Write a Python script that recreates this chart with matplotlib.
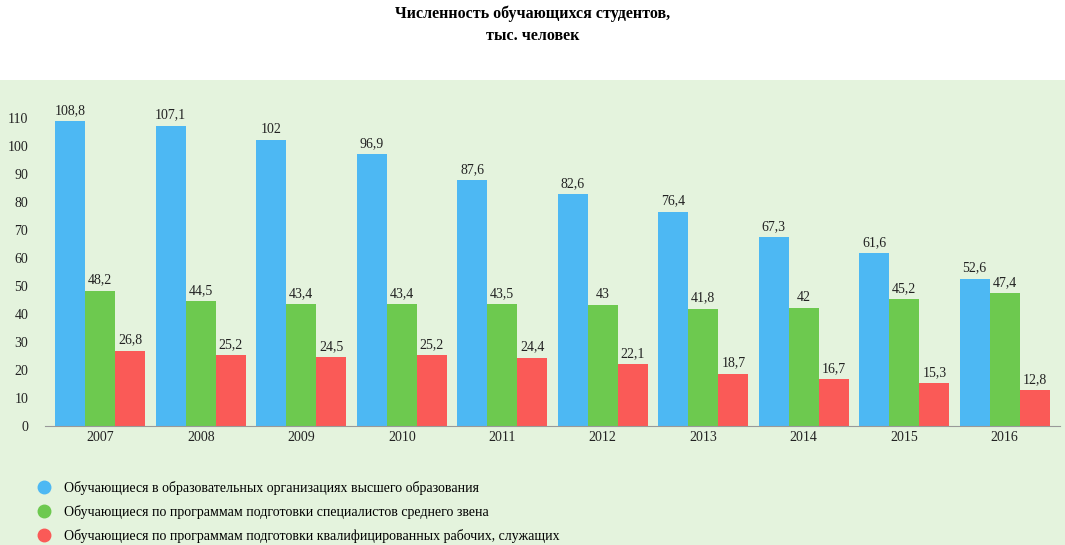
import numpy as np
import matplotlib.pyplot as plt
from matplotlib.patches import Rectangle
from matplotlib.lines import Line2D

years = ["2007", "2008", "2009", "2010", "2011", "2012", "2013", "2014", "2015", "2016"]
higher = [108.8, 107.1, 102, 96.9, 87.6, 82.6, 76.4, 67.3, 61.6, 52.6]
middle = [48.2, 44.5, 43.4, 43.4, 43.5, 43, 41.8, 42, 45.2, 47.4]
workers = [26.8, 25.2, 24.5, 25.2, 24.4, 22.1, 18.7, 16.7, 15.3, 12.8]
series_names = [
    "Обучающиеся в образовательных организациях высшего образования",
    "Обучающиеся по программам подготовки специалистов среднего звена",
    "Обучающиеся по программам подготовки квалифицированных рабочих, служащих",
]
colors = ["#4db8f3", "#6dc94f", "#fa5a57"]

plt.rcParams["font.family"] = "Liberation Serif"
W, H = 1065, 545
fig = plt.figure(figsize=(W / 100, H / 100), dpi=100)
fig.patches.append(Rectangle((0, 0), 1, (H - 80) / H, transform=fig.transFigure,
                             facecolor="#e4f3dd", edgecolor="none", zorder=-10))
fig.text(0.5, 1 - 14 / H, "Численность обучающихся студентов,", ha="center", va="center",
         fontsize=11.5, fontweight="bold")
fig.text(0.5, 1 - 36 / H, "тыс. человек", ha="center", va="center",
         fontsize=11.5, fontweight="bold")

ax = fig.add_axes([45 / W, (H - 426) / H, 1015 / W, 314 / H])
ax.set_facecolor("none")
x = np.arange(len(years))
bw = 0.3
for off, vals, c in zip([-bw, 0, bw], [higher, middle, workers], colors):
    bars = ax.bar(x + off, vals, bw, color=c)
    for b, v in zip(bars, vals):
        ax.text(b.get_x() + bw / 2, v + 1.5, f"{v:g}".replace(".", ","),
                ha="center", va="bottom", fontsize=10, color="#222222")

ax.set_xlim(-0.55, 9.55)
ax.set_ylim(0, 112)
ax.set_yticks(range(0, 111, 10))
ax.set_xticks(x)
ax.set_xticklabels(years)
ax.tick_params(axis="both", length=0, labelsize=10, colors="#222222")
ax.tick_params(axis="y", pad=12)
for s in ["top", "right", "left"]:
    ax.spines[s].set_visible(False)
ax.spines["bottom"].set_color("#999999")

handles = [Line2D([], [], marker="o", linestyle="", markersize=9, color=c) for c in colors]
fig.legend(handles, series_names, loc="upper left", bbox_to_anchor=(18 / W, 1 - 468 / H),
           frameon=False, fontsize=10, handletextpad=0.4, labelspacing=0.75)

fig.savefig("out.png", dpi=100)
